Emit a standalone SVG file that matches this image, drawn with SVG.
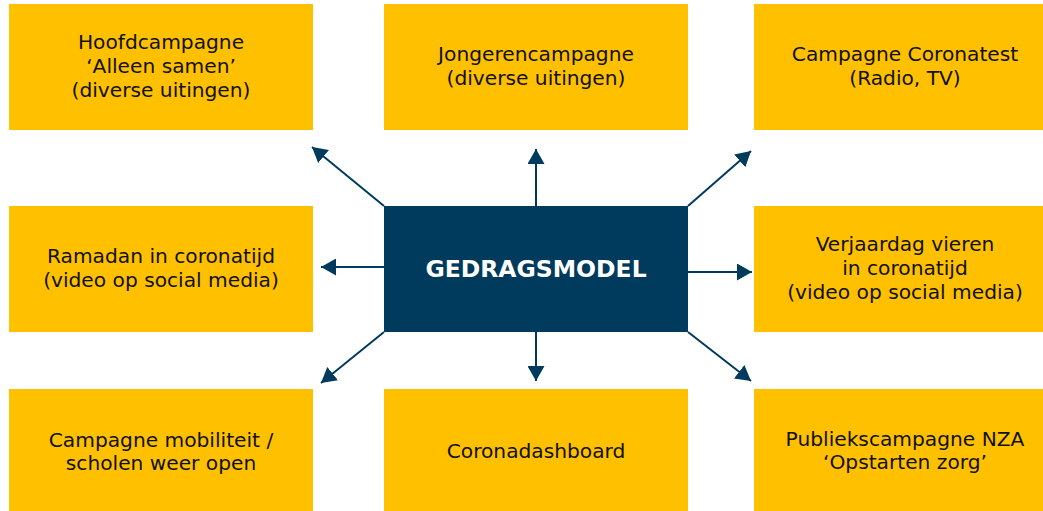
<svg xmlns="http://www.w3.org/2000/svg" width="1043" height="511" viewBox="0 0 1043 511">
<style>
.box{fill:#FFC000}
.core{fill:#003A5D}
.t{font-family:"DejaVu Sans",Verdana,sans-serif;font-size:20.2px;fill:#111111;text-anchor:middle}
.ct{font-family:"DejaVu Sans",Verdana,sans-serif;font-size:23.5px;font-weight:bold;fill:#ffffff;text-anchor:middle}
.c{stroke:#003A5D;stroke-width:2;fill:none;marker-end:url(#ah)}
</style>
<defs>
<marker id="ah" markerUnits="userSpaceOnUse" markerWidth="15" markerHeight="17" refX="15" refY="8.5" orient="auto" viewBox="0 0 15 17">
<path d="M0,0 L15,8.5 L0,17 z" fill="#003A5D"/>
</marker>
</defs>
<rect width="1043" height="511" fill="#ffffff"/>
<g id="n-hoofd"><rect class="box" x="9" y="4" width="304" height="126"/>
<text class="t" x="161" y="49">Hoofdcampagne</text><text class="t" x="161" y="73">‘Alleen samen’</text><text class="t" x="161" y="97">(diverse uitingen)</text></g>
<g id="n-jongeren"><rect class="box" x="384" y="4" width="304" height="126"/>
<text class="t" x="536" y="61">Jongerencampagne</text><text class="t" x="536" y="85">(diverse uitingen)</text></g>
<g id="n-coronatest"><rect class="box" x="754" y="4" width="289" height="126"/>
<text class="t" x="905" y="61">Campagne Coronatest</text><text class="t" x="905" y="85">(Radio, TV)</text></g>
<g id="n-ramadan"><rect class="box" x="9" y="206" width="304" height="126"/>
<text class="t" x="161" y="263">Ramadan in coronatijd</text><text class="t" x="161" y="287">(video op social media)</text></g>
<g id="n-gedragsmodel"><rect class="core" x="384" y="206" width="304" height="126"/>
<text class="ct" x="536" y="277">GEDRAGSMODEL</text></g>
<g id="n-verjaardag"><rect class="box" x="754" y="206" width="289" height="126"/>
<text class="t" x="905" y="251">Verjaardag vieren</text><text class="t" x="905" y="275">in coronatijd</text><text class="t" x="905" y="299">(video op social media)</text></g>
<g id="n-mobiliteit"><rect class="box" x="9" y="389" width="304" height="122"/>
<text class="t" x="161" y="447">Campagne mobiliteit /</text><text class="t" x="161" y="470">scholen weer open</text></g>
<g id="n-dashboard"><rect class="box" x="384" y="389" width="304" height="122"/>
<text class="t" x="536" y="458">Coronadashboard</text></g>
<g id="n-nza"><rect class="box" x="754" y="389" width="289" height="122"/>
<text class="t" x="905" y="446">Publiekscampagne NZA</text><text class="t" x="905" y="469">‘Opstarten zorg’</text></g>
<g id="connectors">
<line class="c" x1="536" y1="206" x2="536" y2="149"/>
<line class="c" x1="536" y1="332" x2="536" y2="381"/>
<line class="c" x1="384" y1="267" x2="321" y2="267"/>
<line class="c" x1="688" y1="272" x2="752" y2="272"/>
<line class="c" x1="384" y1="206" x2="312" y2="147"/>
<line class="c" x1="688" y1="206" x2="751" y2="151"/>
<line class="c" x1="384" y1="332" x2="321" y2="383"/>
<line class="c" x1="688" y1="332" x2="751" y2="381"/>
</g>
</svg>
